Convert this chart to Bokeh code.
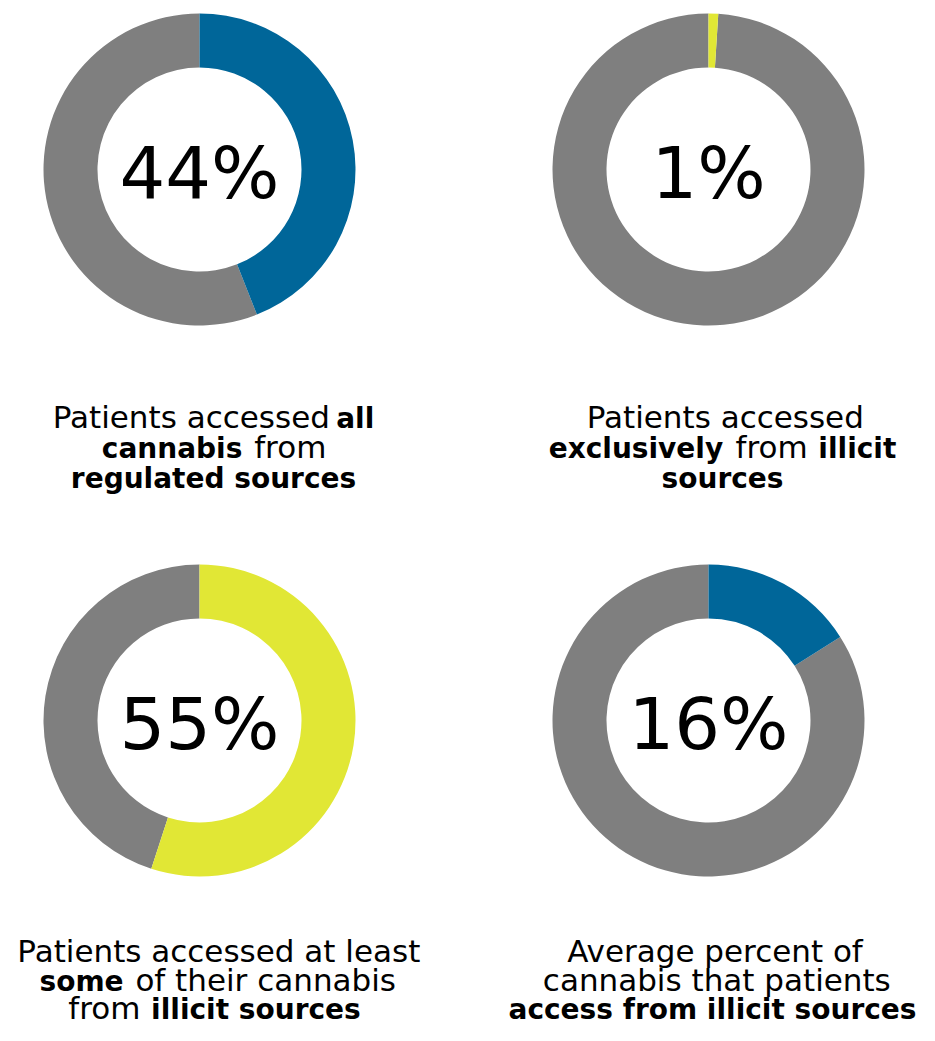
import math
from bokeh.plotting import figure
from bokeh.models import ColumnDataSource, Range1d
from bokeh.core.properties import value
from bokeh.embed import file_html
from bokeh.resources import INLINE

# ---------------- data ----------------
percent_values = [44, 1, 55, 16]
highlight_colors = ["#006699", "#E1E735", "#E1E735", "#006699"]
rest_color = "#7F7F7F"

caption_1 = [[("Patients accessed", False), ("all", True)],
             [("cannabis", True), ("from", False)],
             [("regulated sources", True)]]
caption_2 = [[("Patients accessed", False)],
             [("exclusively", True), ("from", False), ("illicit", True)],
             [("sources", True)]]
caption_3 = [[("Patients accessed at least", False)],
             [("some", True), ("of their cannabis", False)],
             [("from", False), ("illicit sources", True)]]
caption_4 = [[("Average percent of", False)],
             [("cannabis that patients", False)],
             [("access from illicit sources", True)]]
captions = [caption_1, caption_2, caption_3, caption_4]

# ---------------- layout (screen pixel coordinates) ----------------
W, H = 919, 1025
def Y(py):
    return H - py

centers = [(199, 169), (708, 169), (199, 720), (708, 720)]
R_IN, R_OUT = 102, 156
pct_baseline_offset = 27
caption_layout = [(213, [427, 457, 487]), (722, [427, 457, 487]),
                  (214, [961, 990, 1018]), (712, [961, 990, 1018])]

FONT = "DejaVu Sans"
REG_SIZE, BOLD_SIZE, PCT_SIZE = 31.0, 28.0, 72.0
REG_FACTOR = 0.975   # measured rendering vs table
BASELINE_FIX = 0.33  # svg text sits ~0.33em below the requested baseline
GAP_SCALE = 1.2

reg_w = {' ': .318, 'P': .603, 'A': .684, 'a': .613, 'b': .635, 'c': .550, 'd': .635,
         'e': .615, 'f': .352, 'g': .635, 'h': .634, 'i': .278, 'l': .278, 'm': .974,
         'n': .634, 'o': .612, 'p': .635, 'r': .411, 's': .521, 't': .392, 'u': .634,
         'v': .592, 'x': .592, 'y': .592}
bold_w = {' ': .348, 'a': .675, 'b': .716, 'c': .593, 'd': .716, 'e': .678, 'f': .435,
          'g': .716, 'h': .712, 'i': .343, 'l': .343, 'm': 1.042, 'n': .712, 'o': .687,
          'r': .493, 's': .595, 't': .478, 'u': .712, 'v': .652, 'x': .663, 'y': .652}

def text_width(s, bold):
    if bold:
        return sum(bold_w.get(ch, 0.6) for ch in s) * BOLD_SIZE
    return sum(reg_w.get(ch, 0.6) for ch in s) * REG_SIZE * REG_FACTOR

p = figure(width=W, height=H, output_backend="svg", toolbar_location=None,
           x_range=Range1d(0, W), y_range=Range1d(0, H),
           min_border=0, outline_line_color=None, background_fill_color="white",
           border_fill_color="white")
p.axis.visible = False
p.grid.visible = False

# donuts
cx = [c[0] for c in centers]
cy = [Y(c[1]) for c in centers]
split = [math.pi / 2 - 2 * math.pi * v / 100 for v in percent_values]
donut_src = ColumnDataSource(dict(x=cx, y=cy, split=split,
                                  top=[math.pi / 2] * 4, color=highlight_colors))
p.annular_wedge(x="x", y="y", inner_radius=R_IN, outer_radius=R_OUT,
                start_angle="top", end_angle="split", direction="anticlock",
                fill_color=rest_color, line_color=None, source=donut_src)
p.annular_wedge(x="x", y="y", inner_radius=R_IN, outer_radius=R_OUT,
                start_angle="split", end_angle="top", direction="anticlock",
                fill_color="color", line_color=None, source=donut_src)

# percent labels
pct_src = ColumnDataSource(dict(
    x=cx,
    y=[Y(c[1] + pct_baseline_offset) + BASELINE_FIX * PCT_SIZE for c in centers],
    text=[f"{v}%" for v in percent_values]))
p.text(x="x", y="y", text="text", source=pct_src, text_font=value(FONT),
       text_font_size=value(f"{PCT_SIZE}px"), text_align="center",
       text_baseline="alphabetic", text_color="black")

# captions (mixed regular/bold runs, centred per line)
reg = dict(x=[], y=[], text=[])
bld = dict(x=[], y=[], text=[])
gap = reg_w[' '] * REG_SIZE * GAP_SCALE
for cap, (ccx, baselines) in zip(captions, caption_layout):
    for line, by in zip(cap, baselines):
        widths = [text_width(t, b) for t, b in line]
        total = sum(widths) + gap * (len(line) - 1)
        x = ccx - total / 2
        for (t, b), w in zip(line, widths):
            d = bld if b else reg
            d["x"].append(x)
            d["y"].append(Y(by) + BASELINE_FIX * (BOLD_SIZE if b else REG_SIZE))
            d["text"].append(t)
            x += w + gap

p.text(x="x", y="y", text="text", source=ColumnDataSource(reg), text_font=value(FONT),
       text_font_size=value(f"{REG_SIZE}px"), text_align="left",
       text_baseline="alphabetic", text_color="black")
p.text(x="x", y="y", text="text", source=ColumnDataSource(bld), text_font=value(FONT),
       text_font_size=value(f"{BOLD_SIZE}px"), text_font_style="bold", text_align="left",
       text_baseline="alphabetic", text_color="black")

open("out.html", "w").write(file_html(p, INLINE))
